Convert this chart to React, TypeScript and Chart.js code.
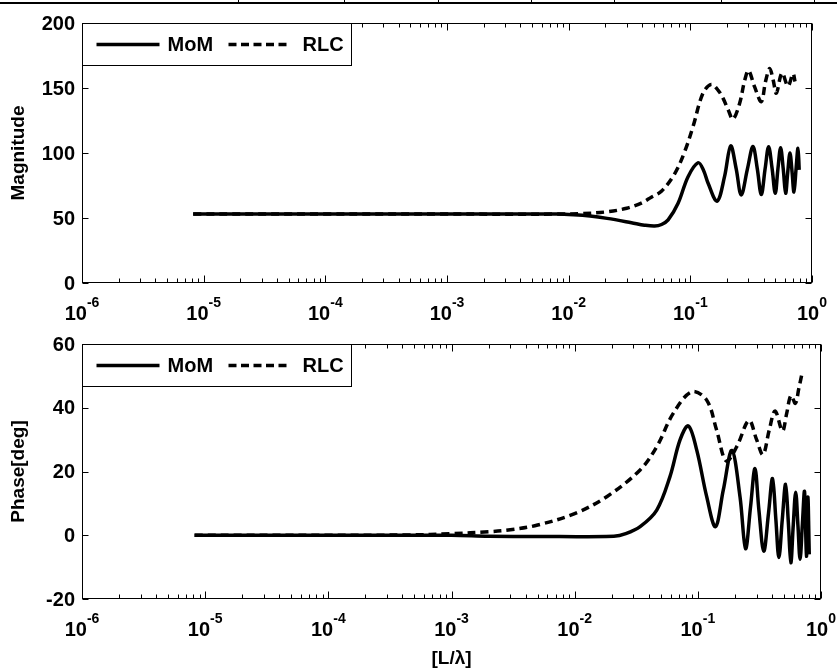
import React, { useEffect, useRef } from "react";
import { Chart, registerables } from "chart.js";
Chart.register(...registerables);

const FONT = '"Liberation Sans", Arial, Helvetica, sans-serif';

// ---- data ----
const xDecades = [-6, -5, -4, -3, -2, -1, 0];
const magTicks = [0, 50, 100, 150, 200];
const phaseTicks = [-20, 0, 20, 40, 60];
const seriesNames = ["MoM", "RLC"];

const momMagX = [8.2e-6, 1e-4, 1e-3, 0.008, 0.011, 0.015, 0.0207, 0.0328, 0.042, 0.0509, 0.058, 0.0657, 0.0793, 0.0958, 0.1157, 0.128, 0.14, 0.166, 0.191, 0.2145, 0.238, 0.262, 0.295, 0.327, 0.355, 0.383, 0.412, 0.44, 0.47, 0.499, 0.525, 0.552, 0.58, 0.607, 0.633, 0.659, 0.685, 0.711, 0.74, 0.767, 0.785];
const momMagY = [53, 53, 53, 53, 52.5, 51.5, 49.7, 46.4, 44.5, 43.8, 45, 48.5, 61.3, 81.8, 92.5, 87, 76.7, 63, 81.8, 105.5, 88, 67.7, 88, 105, 88, 68, 88, 104.8, 88, 69, 88, 104, 88, 69, 86, 100, 86, 70, 88, 103.6, 87];

const rlcMagX = [8.2e-6, 1e-4, 1e-3, 0.008, 0.0125, 0.0208, 0.03, 0.0396, 0.0478, 0.0578, 0.0743, 0.0898, 0.105, 0.127, 0.1488, 0.17, 0.186, 0.205, 0.224, 0.254, 0.28, 0.301, 0.337, 0.383, 0.415, 0.449, 0.48, 0.509, 0.567, 0.635, 0.698, 0.725];
const rlcMagY = [53, 53, 53, 53, 53.3, 54.8, 57.5, 61.5, 66, 70.5, 84, 101, 120, 146, 152.8, 148, 142, 133, 126, 138, 156, 163.5, 151, 139.5, 155, 165, 156, 146, 161.5, 151.5, 161, 155];

const momPhX = [8.2e-6, 1e-4, 1e-3, 2e-3, 5e-3, 0.0208, 0.026, 0.034, 0.0464, 0.0594, 0.0717, 0.0838, 0.098, 0.118, 0.139, 0.161, 0.189, 0.22, 0.244, 0.268, 0.291, 0.313, 0.343, 0.375, 0.404, 0.43, 0.455, 0.485, 0.516, 0.543, 0.569, 0.595, 0.623, 0.65, 0.676, 0.705, 0.735, 0.762, 0.782, 0.803];
const momPhY = [0, 0, 0, -0.3, -0.4, -0.3, 0.5, 2.7, 7.9, 18.4, 29.9, 34.3, 26.7, 12.1, 2.7, 14.2, 26.6, 12.1, -4.2, 9, 20.9, 8, -5, 7, 17.8, 5, -7, 5, 16, 4, -8.6, 3, 13.5, 3, -7.5, 3, 13.7, -6.6, 12, -6];

const rlcPhX = [8.2e-6, 1e-4, 4.5e-4, 1e-3, 2e-3, 3e-3, 5e-3, 0.01, 0.0182, 0.034, 0.0464, 0.0633, 0.0892, 0.118, 0.142, 0.17, 0.207, 0.26, 0.3, 0.338, 0.38, 0.424, 0.486, 0.525, 0.57, 0.62, 0.66, 0.697];
const rlcPhY = [0, 0, 0.1, 0.5, 1.1, 1.7, 3.2, 6.8, 12.1, 20.5, 27.8, 38.3, 45, 42.4, 33, 23.3, 27.8, 36, 30, 25.3, 33, 39, 32.7, 38, 43.8, 41.4, 46, 50.3];

const topBorderXs = [238, 344, 438, 531, 614, 721, 814];

function pts(xs: number[], ys: number[]) {
  return xs.map((x, i) => ({ x, y: ys[i] }));
}

function framePlugin(opts: { yTicks: number[]; yTitle: string; xTitle?: string }) {
  return {
    id: "frame",
    afterDatasetsDraw(chart: any) {
      const ctx = chart.ctx as CanvasRenderingContext2D;
      const a = chart.chartArea;
      const xs = chart.scales.x;
      const ys = chart.scales.y;
      ctx.save();
      ctx.strokeStyle = "#000";
      ctx.lineWidth = 1;
      const L = Math.round(a.left) + 0.5;
      const R = Math.round(a.right) - 0.5;
      const T = Math.round(a.top) + 0.5;
      const B = Math.round(a.bottom) - 0.5;
      ctx.strokeRect(L, T, R - L, B - T);
      ctx.beginPath();
      for (const d of xDecades) {
        const p = Math.round(xs.getPixelForValue(Math.pow(10, d))) + 0.5;
        ctx.moveTo(p, B); ctx.lineTo(p, B - 7);
        ctx.moveTo(p, T); ctx.lineTo(p, T + 7);
        if (d < 0) {
          for (let k = 2; k < 10; k++) {
            const q = Math.round(xs.getPixelForValue(k * Math.pow(10, d))) + 0.5;
            ctx.moveTo(q, B); ctx.lineTo(q, B - 4);
            ctx.moveTo(q, T); ctx.lineTo(q, T + 4);
          }
        }
      }
      for (const v of opts.yTicks) {
        const p = Math.round(ys.getPixelForValue(v)) + 0.5;
        ctx.moveTo(L, p); ctx.lineTo(L + 6, p);
        ctx.moveTo(R, p); ctx.lineTo(R - 6, p);
      }
      ctx.stroke();

      // tick labels
      ctx.fillStyle = "#000";
      ctx.font = `bold 20px ${FONT}`;
      ctx.textAlign = "right";
      ctx.textBaseline = "middle";
      for (const v of opts.yTicks) {
        ctx.fillText(String(v), a.left - 7, ys.getPixelForValue(v) + 1);
      }
      ctx.textAlign = "left";
      ctx.textBaseline = "alphabetic";
      for (const d of xDecades) {
        const p = xs.getPixelForValue(Math.pow(10, d));
        ctx.font = `bold 20px ${FONT}`;
        const w1 = ctx.measureText("10").width;
        ctx.font = `bold 14px ${FONT}`;
        const exp = String(d);
        const w2 = ctx.measureText(exp).width;
        const start = p - (w1 + w2) / 2;
        ctx.font = `bold 20px ${FONT}`;
        ctx.fillText("10", start, a.bottom + 37);
        ctx.font = `bold 14px ${FONT}`;
        ctx.fillText(exp, start + w1, a.bottom + 24);
      }

      // axis titles
      ctx.font = `bold 19px ${FONT}`;
      ctx.textAlign = "center";
      ctx.textBaseline = "middle";
      ctx.save();
      ctx.translate(19, (a.top + a.bottom) / 2);
      ctx.rotate(-Math.PI / 2);
      ctx.fillText(opts.yTitle, 0, 0);
      ctx.restore();
      if (opts.xTitle) {
        ctx.fillText(opts.xTitle, (a.left + a.right) / 2, a.bottom + 60);
      }

      // legend
      const bx = L, by = T, bw = 269, bh = 42;
      ctx.fillStyle = "#fff";
      ctx.fillRect(bx, by, bw, bh);
      ctx.strokeStyle = "#000";
      ctx.lineWidth = 1;
      ctx.strokeRect(bx, by, bw, bh);
      const cy = by + bh / 2;
      ctx.lineWidth = 3.5;
      ctx.beginPath();
      ctx.moveTo(bx + 14, cy); ctx.lineTo(bx + 77, cy);
      ctx.stroke();
      ctx.setLineDash([8, 4.5]);
      ctx.beginPath();
      ctx.moveTo(bx + 146, cy); ctx.lineTo(bx + 206, cy);
      ctx.stroke();
      ctx.setLineDash([]);
      ctx.fillStyle = "#000";
      ctx.font = `bold 20px ${FONT}`;
      ctx.textAlign = "left";
      ctx.textBaseline = "middle";
      ctx.fillText(seriesNames[0], bx + 85, cy + 1);
      ctx.fillText(seriesNames[1], bx + 220, cy + 1);
      ctx.restore();
    },
  };
}

function makeChart(
  canvas: HTMLCanvasElement,
  mom: { x: number; y: number }[],
  rlc: { x: number; y: number }[],
  yMin: number,
  yMax: number,
  padding: any,
  plugin: any
) {
  return new Chart(canvas, {
    type: "line",
    data: {
      datasets: [
        { label: seriesNames[0], data: mom, borderColor: "#000", borderWidth: 3.5, pointRadius: 0, tension: 0.35, fill: false },
        { label: seriesNames[1], data: rlc, borderColor: "#000", borderWidth: 3.5, borderDash: [8, 5], pointRadius: 0, tension: 0.35, fill: false },
      ],
    },
    options: {
      responsive: false,
      animation: false,
      devicePixelRatio: 1,
      layout: { padding },
      plugins: { legend: { display: false }, tooltip: { enabled: false } },
      scales: {
        x: { type: "logarithmic", min: 1e-6, max: 1, display: false },
        y: { type: "linear", min: yMin, max: yMax, display: false },
      },
    },
    plugins: [plugin],
  } as any);
}

export default function App() {
  const c1 = useRef<HTMLCanvasElement>(null);
  const c2 = useRef<HTMLCanvasElement>(null);
  useEffect(() => {
    const ch1 = makeChart(
      c1.current!,
      pts(momMagX, momMagY),
      pts(rlcMagX, rlcMagY),
      0,
      200,
      { left: 82, right: 25, top: 23, bottom: 47 },
      framePlugin({ yTicks: magTicks, yTitle: "Magnitude" })
    );
    const ch2 = makeChart(
      c2.current!,
      pts(momPhX, momPhY),
      pts(rlcPhX, rlcPhY),
      -20,
      60,
      { left: 82, right: 16, top: 14, bottom: 70 },
      framePlugin({ yTicks: phaseTicks, yTitle: "Phase[deg]", xTitle: "[L/λ]" })
    );
    return () => {
      ch1.destroy();
      ch2.destroy();
    };
  }, []);
  return (
    <div style={{ position: "absolute", left: 0, top: 0, width: 837, height: 669, background: "#fff", overflow: "hidden" }}>
      <div style={{ position: "absolute", left: 0, top: 2, width: 837, height: 2, background: "#000" }} />
      {topBorderXs.map((x) => (
        <div key={x} style={{ position: "absolute", left: x, top: 0, width: 1, height: 3, background: "#000" }} />
      ))}
      <canvas ref={c1} width={837} height={330} style={{ position: "absolute", left: 0, top: 0 }} />
      <canvas ref={c2} width={837} height={339} style={{ position: "absolute", left: 0, top: 330 }} />
    </div>
  );
}
